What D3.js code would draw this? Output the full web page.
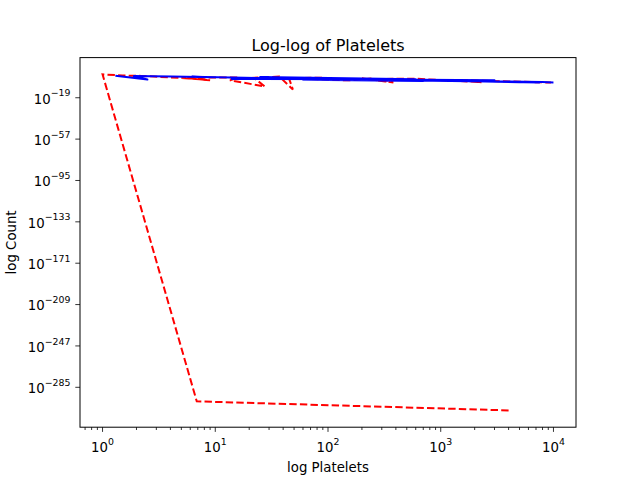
<!DOCTYPE html>
<html lang="en">
<head>
<meta charset="UTF-8">
<title>Log-log of Platelets</title>
<style>
  body { margin: 0; background: #fff; }
  text { font-family: "DejaVu Sans", sans-serif; fill: #000; }
</style>
</head>
<body>
<svg id="viz" width="640" height="480"></svg>
<script src="https://d3js.org/d3.v7.min.js"></script>
<script>
// red dashed series (points in plotting order, unsorted like the source)
const redX = [4000, 6.85, 1, 1.5, 2.2, 6, 9, 5, 16, 13.5, 27.5, 22, 37, 48.8, 45,
  90, 70, 150, 250, 330, 200, 380, 300, 600, 1100, 2300, 1500, 4000, 9500];
const redY = [6e-307, 1.2e-298, 2.8e2, 25, 12, 0.05, 1e-3, 0.3, 0.4, 1e-3, 2.5e-9, 0.2, 3, 4e-12, 0.1,
  0.3, 0.02, 1e-3, 0.05, 1e-4, 5e-2, 1e-5, 0.02, 0.03, 1e-3, 2e-5, 1e-3, 1e-4, 8e-6];

// blue solid series
const blueX = [1.3, 2.5, 1.9, 4.1, 9.5, 6.2, 18, 55, 31, 120, 85, 14, 600, 25, 260, 40, 180, 420, 700,
  60, 3000, 150, 350, 1200, 300, 2500, 1600, 5000, 900, 3500, 7500, 2000, 8000, 10000];
const blueY = [20, 5e-3, 8, 3, 0.6, 1.5, 0.2, 0.06, 0.3, 0.02, 0.08, 0.02, 1e-2, 1, 3e-3, 0.1, 8e-3, 1e-3, 3e-4,
  3e-3, 1e-3, 1e-2, 2e-3, 3e-4, 2e-3, 1e-4, 5e-4, 2e-5, 6e-4, 4e-5, 1e-5, 2e-4, 3e-5, 1.2e-5];

const xTickExps = [0, 1, 2, 3, 4];
const yTickExps = [-285, -247, -209, -171, -133, -95, -57, -19];

const svg = d3.select("#viz");
const margin = {top: 57.6, right: 64, bottom: 52.8, left: 80};
const W = 640, H = 480;

// matplotlib-like 5% margins in log space
function logDomain(vals) {
  const lo = Math.log10(d3.min(vals)), hi = Math.log10(d3.max(vals));
  const pad = 0.05 * (hi - lo);
  return [Math.pow(10, lo - pad), Math.pow(10, hi + pad)];
}

const x = d3.scaleLog()
  .domain(logDomain(redX.concat(blueX)))
  .range([margin.left, W - margin.right]);
const y = d3.scaleLog()
  .domain(logDomain(redY.concat(blueY)))
  .range([H - margin.bottom, margin.top]);

const plot = svg.append("g");
plot.append("clipPath").attr("id", "clip")
  .append("rect")
    .attr("x", margin.left).attr("y", margin.top)
    .attr("width", W - margin.left - margin.right)
    .attr("height", H - margin.top - margin.bottom);

const line = d3.line().x(d => x(d[0])).y(d => y(d[1]));

plot.append("path")
  .datum(d3.zip(redX, redY))
  .attr("d", line)
  .attr("clip-path", "url(#clip)")
  .style("fill", "none")
  .style("stroke", "#ff0000")
  .style("stroke-width", 2)
  .style("stroke-dasharray", "7.4,3.2");

plot.append("path")
  .datum(d3.zip(blueX, blueY))
  .attr("d", line)
  .attr("clip-path", "url(#clip)")
  .style("fill", "none")
  .style("stroke", "#0000ff")
  .style("stroke-width", 2)
  .style("stroke-linejoin", "round");

// axes frame
svg.append("rect")
  .attr("x", margin.left).attr("y", margin.top)
  .attr("width", W - margin.left - margin.right)
  .attr("height", H - margin.top - margin.bottom)
  .style("fill", "none").style("stroke", "#000").style("stroke-width", 1);

const yb = H - margin.bottom;

// x minor ticks
const [x0, x1] = x.domain();
const minor = [];
for (let e = Math.floor(Math.log10(x0)); e <= Math.ceil(Math.log10(x1)); e++) {
  for (let m = 2; m <= 9; m++) {
    const v = m * Math.pow(10, e);
    if (v >= x0 && v <= x1) minor.push(v);
  }
}
svg.selectAll(".xminor").data(minor).enter()
  .append("line").attr("class", "xminor")
  .attr("x1", d => x(d)).attr("x2", d => x(d))
  .attr("y1", yb).attr("y2", yb + 2.8)
  .style("stroke", "#000").style("stroke-width", 0.8);

// x major ticks
svg.selectAll(".xmajor").data(xTickExps).enter()
  .append("line").attr("class", "xmajor")
  .attr("x1", d => x(Math.pow(10, d))).attr("x2", d => x(Math.pow(10, d)))
  .attr("y1", yb).attr("y2", yb + 4.7)
  .style("stroke", "#000").style("stroke-width", 0.8);

const xl = svg.selectAll(".xlab").data(xTickExps).enter()
  .append("text").attr("class", "xlab")
  .attr("x", d => x(Math.pow(10, d)))
  .attr("y", 451.5)
  .attr("text-anchor", "middle")
  .style("font-size", "13.3px");
xl.append("tspan").text("10");
xl.append("tspan").attr("dy", -6.8).style("font-size", "9.4px")
  .text(d => String(d).replace("-", "\u2212"));

// y major ticks
svg.selectAll(".ymajor").data(yTickExps).enter()
  .append("line").attr("class", "ymajor")
  .attr("x1", margin.left - 4.7).attr("x2", margin.left)
  .attr("y1", d => y(Math.pow(10, d))).attr("y2", d => y(Math.pow(10, d)))
  .style("stroke", "#000").style("stroke-width", 0.8);

const ylab = svg.selectAll(".ylab").data(yTickExps).enter()
  .append("text").attr("class", "ylab")
  .attr("x", 70.5)
  .attr("y", d => y(Math.pow(10, d)) + 5.8)
  .attr("text-anchor", "end")
  .style("font-size", "13.3px");
ylab.append("tspan").text("10");
ylab.append("tspan").attr("dy", -7.2).style("font-size", "9.4px")
  .text(d => String(d).replace("-", "\u2212"));

// labels and title
svg.append("text")
  .attr("x", (margin.left + W - margin.right) / 2).attr("y", 472)
  .attr("text-anchor", "middle").style("font-size", "13.3px")
  .text("log Platelets");

svg.append("text")
  .attr("transform", "translate(16," + ((margin.top + yb) / 2) + ") rotate(-90)")
  .attr("text-anchor", "middle").style("font-size", "13.3px")
  .text("log Count");

svg.append("text")
  .attr("x", (margin.left + W - margin.right) / 2).attr("y", 51)
  .attr("text-anchor", "middle").style("font-size", "16px")
  .text("Log-log of Platelets");
</script>
</body>
</html>
